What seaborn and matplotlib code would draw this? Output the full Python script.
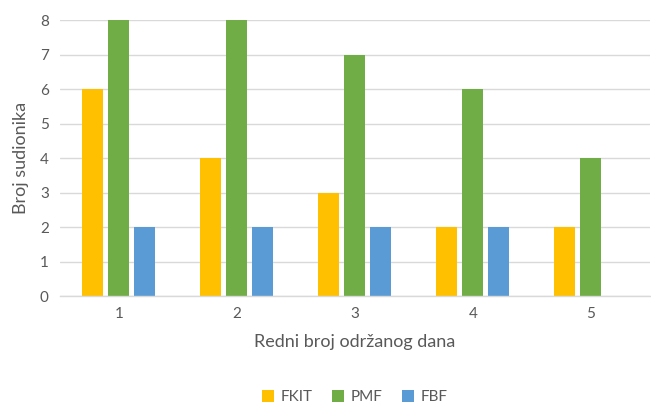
import seaborn as sns
import pandas as pd
import matplotlib.pyplot as plt

# Podaci s grafa
dani = ['1', '2', '3', '4', '5']
fkit = [6, 4, 3, 2, 2]
pmf = [8, 8, 7, 6, 4]
fbf = [2, 2, 2, 2, 0]

df = pd.DataFrame({'dan': dani * 3,
                   'broj': fkit + pmf + fbf,
                   'fakultet': ['FKIT'] * 5 + ['PMF'] * 5 + ['FBF'] * 5})

boje = {'FKIT': '#FFC000', 'PMF': '#70AD47', 'FBF': '#5B9BD5'}
siva = '#595959'

sns.set_style("white")
plt.rcParams['font.family'] = ['Lato', 'DejaVu Sans']

fig = plt.figure(figsize=(6.51, 4.03), dpi=100)
ax = fig.add_axes([0.092, 0.265, 0.906, 0.685])
sb = sns.barplot(data=df, x='dan', y='broj', hue='fakultet', palette=boje,
                 saturation=1, width=0.66, gap=0.19, linewidth=0, ax=ax)

ax.set_ylim(0, 8)
ax.set_xlim(-0.5, 4.5)
ax.set_yticks(range(0, 9))
ax.yaxis.grid(True, color='#D9D9D9', linewidth=1)
ax.set_axisbelow(True)
for s in ['top', 'right', 'left']:
    ax.spines[s].set_visible(False)
ax.spines['bottom'].set_color('#D9D9D9')
ax.spines['bottom'].set_linewidth(1)
ax.tick_params(axis='both', length=0, labelsize=11, labelcolor=siva, pad=8)

ax.set_xlabel('Redni broj održanog dana', fontsize=13, color=siva, labelpad=9)
ax.set_ylabel('Broj sudionika', fontsize=13, color=siva, labelpad=8)

ax.legend(loc='upper center', bbox_to_anchor=(0.5, -0.29), ncol=3, frameon=False,
          fontsize=11, labelcolor=siva, handlelength=0.8, handleheight=0.8,
          columnspacing=1.3, handletextpad=0.4)

plt.savefig('out.png', dpi=100)
